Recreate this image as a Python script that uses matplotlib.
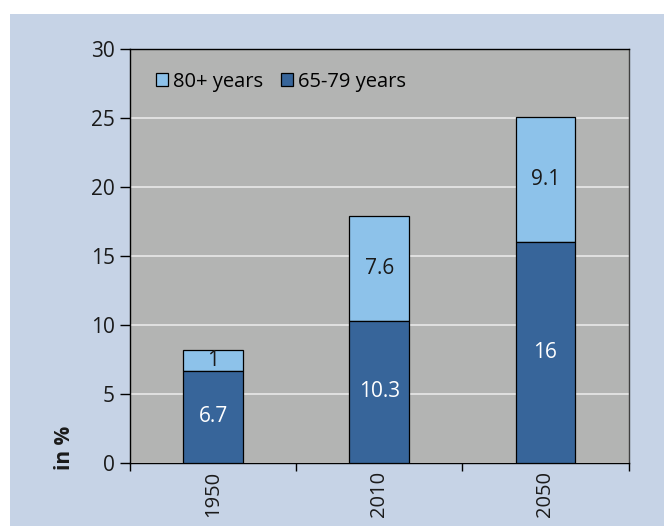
import matplotlib
matplotlib.use("Agg")
import matplotlib.pyplot as plt
import numpy as np
from matplotlib.patches import Rectangle

plt.rcParams["font.family"] = ["Open Sans", "DejaVu Sans"]

years = ["1950", "2010", "2050"]
age_65_79 = [6.7, 10.3, 16]
age_80 = [1.5, 7.6, 9.1]
labels_65_79 = ["6.7", "10.3", "16"]
labels_80 = ["1", "7.6", "9.1"]

DARK = "#37659a"
LIGHT = "#8dc2ea"
PLOT_BG = "#b3b4b3"
PANEL = "#c6d3e6"
TXT = "#1a1a1a"
FS = 15

fig = plt.figure(figsize=(6.64, 5.26), dpi=100)
fig.patch.set_facecolor("white")
fig.patches.append(Rectangle((10 / 664, 0), 1 - 10 / 664, 1 - 14 / 526,
                             transform=fig.transFigure, facecolor=PANEL,
                             edgecolor="none", zorder=-10))

ax = fig.add_axes([130 / 664, 1 - 463 / 526, (628.5 - 130) / 664, (463 - 49) / 526])
ax.set_facecolor(PLOT_BG)

x = np.arange(len(years))
w = 0.36
ax.bar(x, age_80, w, bottom=age_65_79, color=LIGHT, edgecolor="black",
       linewidth=0.9, label="80+ years", zorder=3)
ax.bar(x, age_65_79, w, color=DARK, edgecolor="black", linewidth=0.9,
       label="65-79 years", zorder=3)

for i in range(len(years)):
    ax.text(x[i], age_65_79[i] / 2, labels_65_79[i], ha="center", va="center",
            color="white", fontsize=FS, zorder=4)
    ax.text(x[i], age_65_79[i] + age_80[i] / 2, labels_80[i], ha="center",
            va="center", color=TXT, fontsize=FS, zorder=4)

ax.set_xlim(-0.5, len(years) - 0.5)
ax.set_ylim(0, 30)
ax.set_yticks(range(0, 31, 5))
ax.yaxis.grid(True, color="#e8e8e8", linewidth=1.2, zorder=1)
ax.set_axisbelow(True)

ax.set_xticks(x)
ax.set_xticklabels(years, rotation=90, fontsize=14.5, color=TXT)
ax.set_xticks(np.arange(-0.5, len(years), 1), minor=True)
ax.tick_params(axis="x", which="major", length=0, pad=6)
ax.tick_params(axis="x", which="minor", length=6, width=1, direction="out")
ax.tick_params(axis="y", length=7, width=1, direction="out", labelsize=FS,
               labelcolor=TXT, pad=4)

for s in ax.spines.values():
    s.set_color("black")
    s.set_linewidth(1)
ax.spines["right"].set_color("#404040")

ax.legend(loc="upper left", ncol=2, frameon=False, fontsize=14.5,
          handlelength=0.6, handleheight=0.6, handletextpad=0.25,
          columnspacing=0.9, bbox_to_anchor=(0.035, 0.965), borderaxespad=0)

fig.text(65 / 664, 1 - 448 / 526, "in %", rotation=90, ha="center",
         va="center", fontsize=FS, fontweight="bold", color=TXT)

fig.savefig("out.png", dpi=100)
